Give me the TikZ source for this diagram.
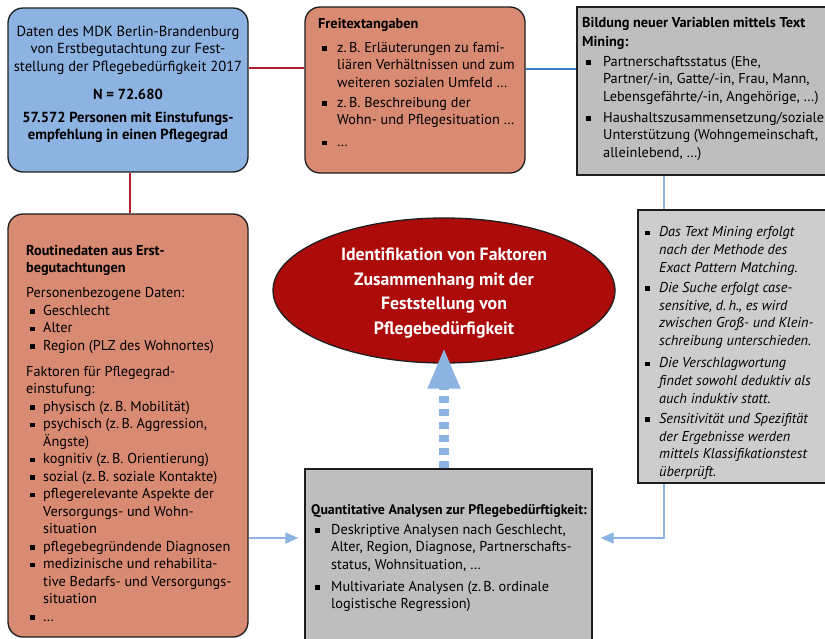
\documentclass[tikz,border=0pt]{standalone}
\usepackage{fontspec}
\setmainfont{PT Sans}
\usetikzlibrary{arrows.meta,shapes.geometric}
\definecolor{boxblue}{HTML}{8DB3E2}
\definecolor{salmon}{HTML}{D98A72}
\definecolor{dred}{HTML}{AD0A0A}
\definecolor{gbox}{HTML}{BEBEBE}
\definecolor{gboxl}{HTML}{CDCDCD}
\definecolor{lred}{HTML}{B0222E}
\definecolor{dblue}{HTML}{3C7FC0}
\definecolor{lblue}{HTML}{8DB3E2}
\definecolor{edgec}{HTML}{1E1E1E}
\newlength\bw
\setlength\bw{19pt}
\newcommand\bul{\makebox[\bw][l]{\hspace{4pt}\rule[1.5pt]{4.5pt}{4.5pt}}}
\newcommand\ind{\hspace*{\bw}}
\tikzset{
  rbox/.style={draw=edgec, line width=1.3pt, rounded corners=15pt, inner sep=0pt},
  sbox/.style={draw=edgec, line width=1.3pt, inner sep=0pt},
  txt/.style={inner sep=0pt, align=left, anchor=north west, font=\fontsize{14.3}{17.5}\selectfont},
  redline/.style={draw=lred, line width=1.3pt},
  blueline/.style={draw=dblue, line width=1.3pt},
  arrline/.style={draw=lblue, line width=1.3pt, -{Triangle[length=13pt,width=11pt]}},
}
\begin{document}
\begin{tikzpicture}[x=1pt,y=-1pt]
\useasboundingbox (0,0) rectangle (825,638);
\fill[white] (0,0) rectangle (825,638);
% box nodes
\node[rbox, fill=boxblue, minimum width=240pt, minimum height=164pt] (blue) at (128,90) {};
\node[rbox, fill=salmon, minimum width=220pt, minimum height=166pt] (frei) at (415,90) {};
\node[sbox, fill=gbox, minimum width=258pt, minimum height=168pt] (bild) at (706,91) {};
\node[rbox, fill=salmon, minimum width=240pt, minimum height=423pt] (rout) at (128,425.5) {};
\node[sbox, fill=gbox, minimum width=287pt, minimum height=181pt] (quant) at (448.5,559.5) {};
% connectors
\draw[redline] ([yshift=22pt]blue.east) -- ([yshift=22pt]blue.east -| frei.west);
\draw[redline] ([xshift=2pt]blue.south) -- ([xshift=2pt]rout.north);
\draw[blueline] ([yshift=21pt]frei.east) -- ([yshift=21pt]frei.east -| bild.west);
\coordinate (rj) at (664,538);
\draw[arrline] (bild.south -| rj) -- (rj) -- ([xshift=8pt]quant.east |- rj);
\draw[arrline] (rout.east |- rj) -- ([xshift=-6pt]quant.west |- rj);
% italic box on top of the vertical line
\node[sbox, fill=gboxl, minimum width=197pt, minimum height=273pt] (ital) at (736.5,346.5) {};
% ellipse
\node[ellipse, draw=edgec, line width=1.3pt, fill=dred, minimum width=342pt, minimum height=145pt, inner sep=0pt] (ell) at (444,290.5) {};
\node[inner sep=0pt, text=white, align=center, font=\bfseries\fontsize{17.8}{24.8}\selectfont] (tell) at (444,293)
  {Identifikation von Faktoren\\Zusammenhang mit der\\Feststellung von\\Pflegebedürfigkeit};
% dotted thick arrow
\draw[draw=lblue, line width=10pt, dash pattern=on 7pt off 6pt, -{Triangle[length=41pt,width=30pt]}]
  (quant.north -| ell.south) -- ([yshift=16pt]ell.south);
% texts
\node[txt, align=center, anchor=north, font=\fontsize{14.6}{17.5}\selectfont] (tblue) at (128,25.5)
  {Daten des MDK Berlin-Brandenburg\\von Erstbegutachtung zur Fest-\\stellung der Pflegebedürfigkeit 2017\\[10.5pt]\textbf{N = 72.680}\\[5.5pt]\textbf{57.572 Personen mit Einstufungs-}\\\textbf{empfehlung in einen Pflegegrad}};
\global\bw=19pt
\node[txt] (tfrei) at (318,18)
  {\textbf{Freitextangaben}\\[6.5pt]
   \bul z.\,B. Erläuterungen zu fami-\\
   \ind liären Verhältnissen und zum\\
   \ind weiteren sozialen Umfeld …\\[2.5pt]
   \bul z.\,B. Beschreibung der\\
   \ind Wohn- und Pflegesituation …\\[4.5pt]
   \bul …};
\global\bw=21pt
\node[txt] (tbild) at (582,17)
  {\textbf{Bildung neuer Variablen mittels Text}\\[1.5pt]
   \textbf{Mining:}\\[2.5pt]
   \bul Partnerschaftsstatus (Ehe,\\
   \ind Partner/-in, Gatte/-in, Frau, Mann,\\
   \ind Lebensgefährte/-in, Angehörige, …)\\[3.5pt]
   \bul Haushaltszusammensetzung/soziale\\
   \ind Unterstützung (Wohngemeinschaft,\\
   \ind alleinlebend, …)};
\global\bw=17pt
\node[txt] (trout) at (26,245)
  {\textbf{Routinedaten aus Erst-}\\
   \textbf{begutachtungen}\\[7.5pt]
   Personenbezogene Daten:\\
   \bul Geschlecht\\
   \bul Alter\\
   \bul Region (PLZ des Wohnortes)\\[8.5pt]
   Faktoren für Pflegegrad-\\
   einstufung:\\
   \bul physisch (z.\,B. Mobilität)\\
   \bul psychisch (z.\,B. Aggression,\\
   \ind Ängste)\\
   \bul kognitiv (z.\,B. Orientierung)\\
   \bul sozial (z.\,B. soziale Kontakte)\\
   \bul pflegerelevante Aspekte der\\
   \ind Versorgungs- und Wohn-\\
   \ind situation\\
   \bul pflegebegründende Diagnosen\\
   \bul medizinische und rehabilita-\\
   \ind tive Bedarfs- und Versorgungs-\\
   \ind situation\\
   \bul …};
\global\bw=18pt
\node[txt, font=\itshape\fontsize{14.3}{17.7}\selectfont] (tital) at (641,226.5)
  {\bul Das Text Mining erfolgt\\
   \ind nach der Methode des\\
   \ind Exact Pattern Matching.\\[2.5pt]
   \bul Die Suche erfolgt case-\\
   \ind sensitive, d.\,h., es wird\\
   \ind zwischen Groß- und Klein-\\
   \ind schreibung unterschieden.\\[4.5pt]
   \bul Die Verschlagwortung\\
   \ind findet sowohl deduktiv als\\
   \ind auch induktiv statt.\\[2.5pt]
   \bul Sensitivität und Spezifität\\
   \ind der Ergebnisse werden\\
   \ind mittels Klassifikationstest\\
   \ind überprüft.};
\global\bw=20pt
\node[txt] (tquant) at (311,504)
  {{\fontsize{13.9}{17.5}\selectfont\textbf{Quantitative Analysen zur Pflegebedürftigkeit:}}\\[2.5pt]
   \bul Deskriptive Analysen nach Geschlecht,\\
   \ind Alter, Region, Diagnose, Partnerschafts-\\
   \ind status, Wohnsituation, …\\[4.5pt]
   \bul Multivariate Analysen (z.\,B. ordinale\\
   \ind logistische Regression)};
\end{tikzpicture}
\end{document}
